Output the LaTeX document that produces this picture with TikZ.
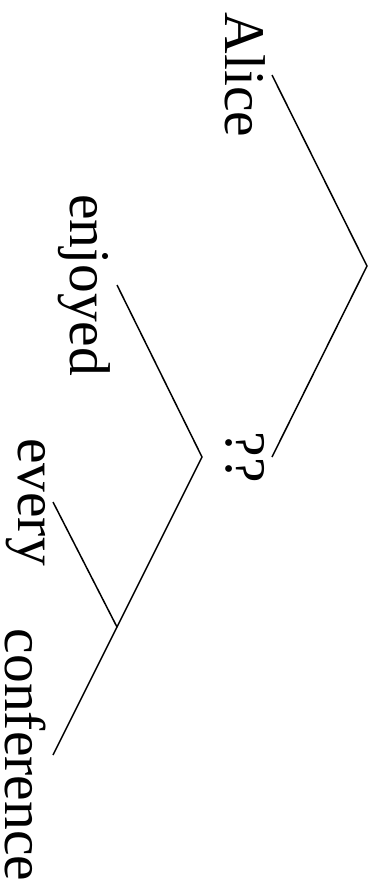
\documentclass[tikz,border=0pt]{standalone}
\usepackage{fontspec}
\setmainfont{Liberation Serif}
\usetikzlibrary{positioning}
\tikzset{
  leaf/.style={rotate=-90, anchor=north, inner sep=1.2pt, font=\fontsize{11.5}{13}\selectfont},
  branch/.style={line width=0.3pt},
}

\begin{document}
\begin{tikzpicture}[x=0.2pt, y=0.2pt]
    \useasboundingbox (0,0) rectangle (377,-884);
    \coordinate (top) at (367,-266);
    \coordinate (qb)  at (202,-457);
    \coordinate (dp)  at (117,-627);
    \node[leaf] (alice) at (272,-75)  {Alice};
    \node[leaf] (qq)    at (272,-457) {??};
    \node[leaf] (enj)   at (117,-285) {enjoyed};
    \node[leaf] (ev)    at (53,-502)  {every};
    \node[leaf] (conf)  at (53,-755)  {conference};
    \draw[branch] (alice.north) -- (top) -- (qq.north);
    \draw[branch] (enj.north) -- (qb) -- (dp);
    \draw[branch] (ev.north) -- (dp) -- (conf.north);
  \end{tikzpicture}
\end{document}
